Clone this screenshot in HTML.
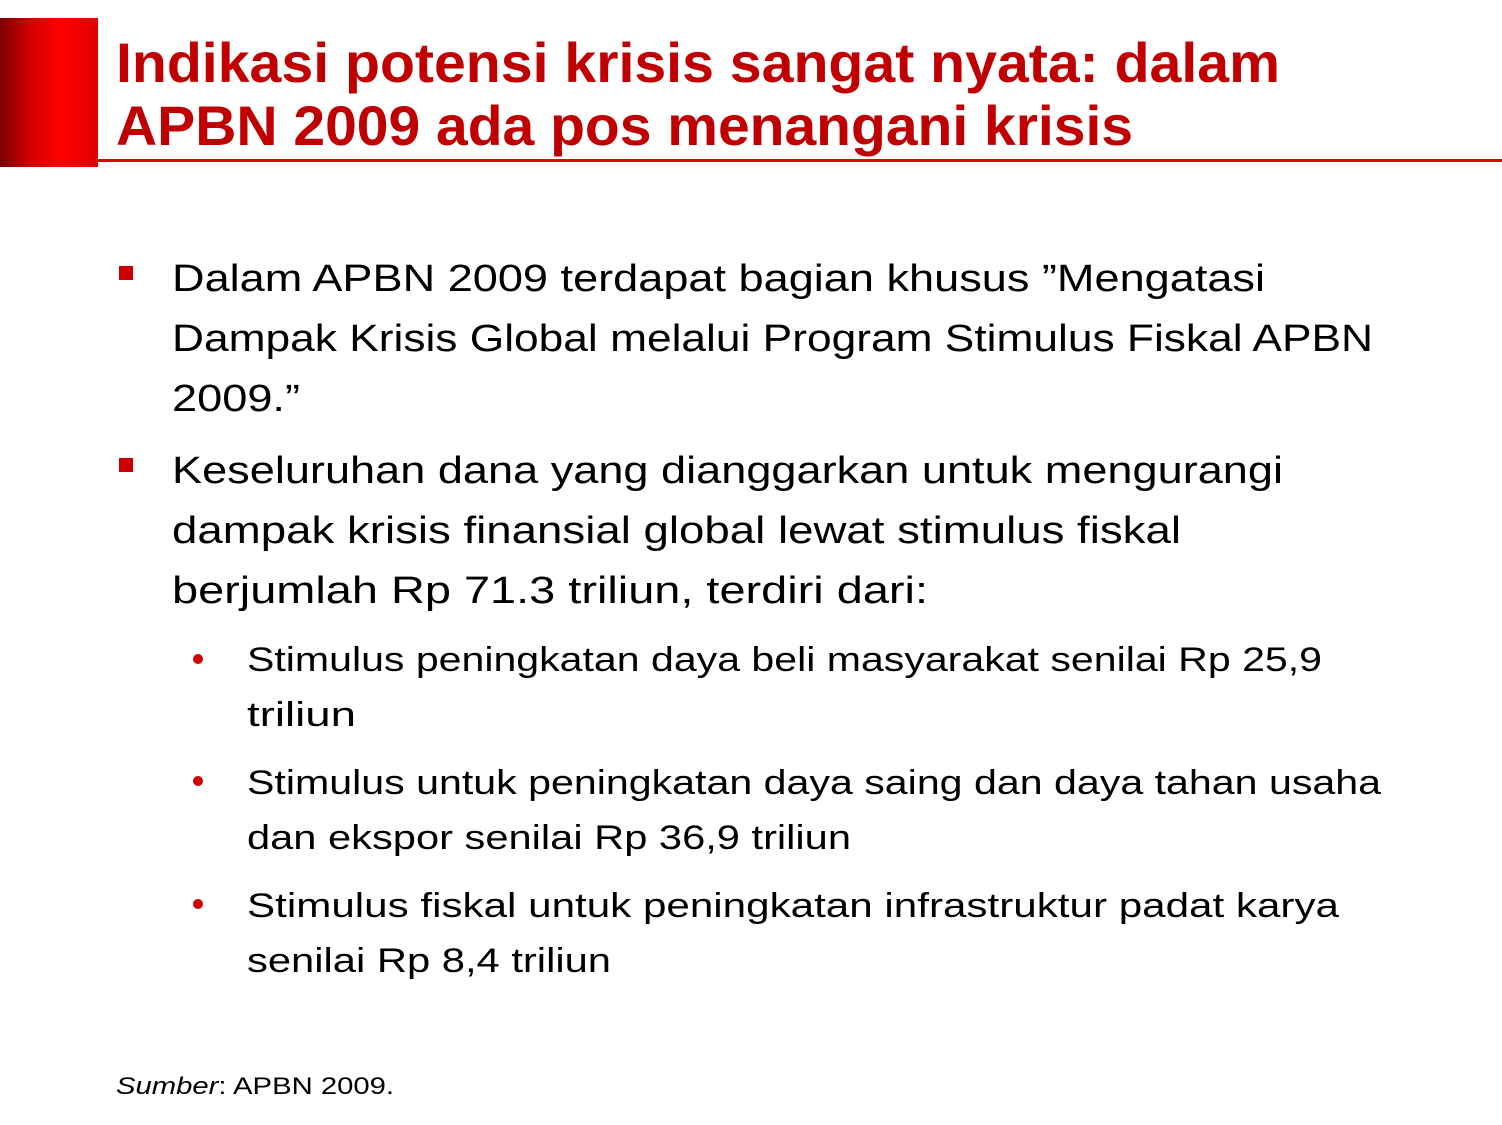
<!DOCTYPE html>
<html><head><meta charset="utf-8"><style>
body{margin:0;width:1502px;height:1125px;background:#fff;position:relative;overflow:hidden;font-family:"Liberation Sans",sans-serif;}
.l{position:absolute;white-space:nowrap;line-height:1;transform-origin:0 0;color:#000;}
.t{font-weight:bold;color:#C00000;font-size:56px;}
.b{font-size:38px;}
.s{font-size:34px;}
.sq{position:absolute;width:14px;height:14px;background:#CC0000;left:119px;}
.dot{position:absolute;width:10px;height:10px;border-radius:50%;background:#CC0000;left:193px;}
</style></head><body>
<div style="position:absolute;left:0;top:18px;width:98px;height:149px;background:linear-gradient(90deg,#7a0000 0%,#d00000 30%,#ff0000 60%,#e00000 100%)"></div>
<div style="position:absolute;left:98px;top:159px;width:1404px;height:3px;background:#E00000"></div>
<div class="l t" style="left:116px;top:35px" w="1164">Indikasi potensi krisis sangat nyata: dalam</div>
<div class="l t" style="left:116px;top:98px" w="1017">APBN 2009 ada pos menangani krisis</div>
<div class="sq" style="top:266px"></div>
<div class="l b" style="left:172px;top:260px" w="1093">Dalam APBN 2009 terdapat bagian khusus ”Mengatasi</div>
<div class="l b" style="left:172px;top:320px" w="1201">Dampak Krisis Global melalui Program Stimulus Fiskal APBN</div>
<div class="l b" style="left:172px;top:380px" w="128">2009.”</div>
<div class="sq" style="top:458px"></div>
<div class="l b" style="left:172px;top:452px" w="1111">Keseluruhan dana yang dianggarkan untuk mengurangi</div>
<div class="l b" style="left:172px;top:512px" w="1009">dampak krisis finansial global lewat stimulus fiskal</div>
<div class="l b" style="left:172px;top:572px" w="756">berjumlah Rp 71.3 triliun, terdiri dari:</div>
<div class="dot" style="top:654px"></div>
<div class="l s" style="left:247px;top:643px" w="1075">Stimulus peningkatan daya beli masyarakat senilai Rp 25,9</div>
<div class="l s" style="left:247px;top:698px" w="109">triliun</div>
<div class="dot" style="top:776px"></div>
<div class="l s" style="left:247px;top:766px" w="1134">Stimulus untuk peningkatan daya saing dan daya tahan usaha</div>
<div class="l s" style="left:247px;top:821px" w="604">dan ekspor senilai Rp 36,9 triliun</div>
<div class="dot" style="top:899px"></div>
<div class="l s" style="left:247px;top:889px" w="1092">Stimulus fiskal untuk peningkatan infrastruktur padat karya</div>
<div class="l s" style="left:247px;top:944px" w="364">senilai Rp 8,4 triliun</div>
<div class="l" style="left:116px;top:1075px;font-size:24px" w="278"><i>Sumber</i>: APBN 2009.</div>
<script>
document.querySelectorAll('.l').forEach(function(e){var w=+e.getAttribute('w');var r=e.getBoundingClientRect().width;if(w&&r)e.style.transform='scaleX('+(w/r)+')';});
</script>
</body></html>
